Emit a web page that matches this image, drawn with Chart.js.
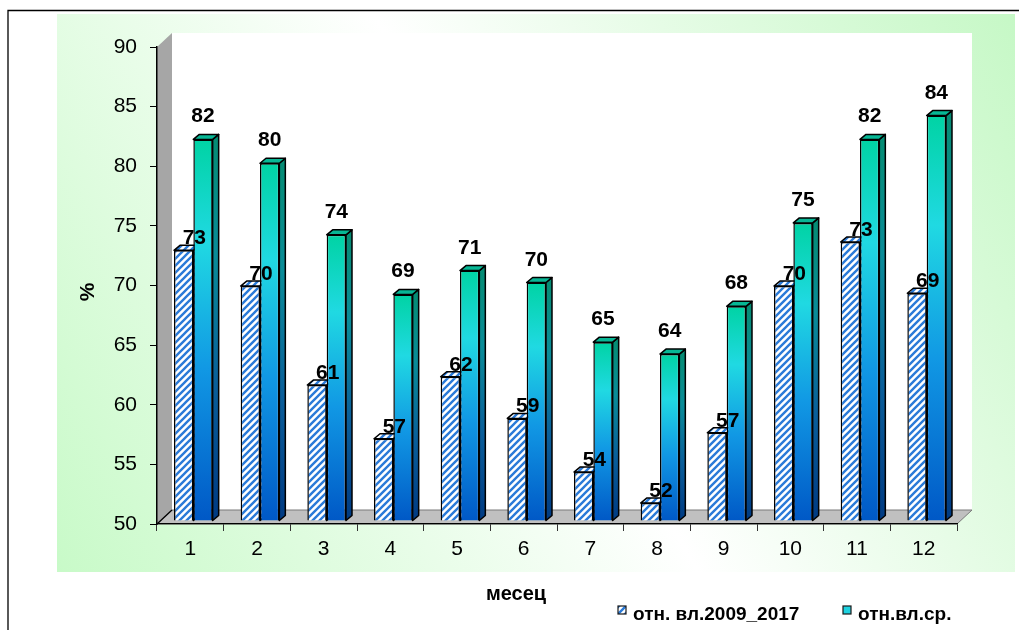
<!DOCTYPE html>
<html>
<head>
<meta charset="utf-8">
<script src="https://cdn.jsdelivr.net/npm/chart.js@4.4.0/dist/chart.umd.min.js"></script>
<style>
html, body { margin: 0; padding: 0; background: #fff; }
canvas { display: block; }
</style>
</head>
<body>
<canvas id="chart" width="1019" height="630"></canvas>
<script>
// data
const months = ['1', '2', '3', '4', '5', '6', '7', '8', '9', '10', '11', '12'];
const relHum0917 = [72.7, 69.7, 61.4, 56.9, 62.1, 58.6, 54.1, 51.5, 57.4, 69.7, 73.4, 69.1];
const relHumAvg = [82, 80, 74, 69, 71, 70, 65, 64, 68, 75, 82, 84];
const yTicks = [50, 55, 60, 65, 70, 75, 80, 85, 90];
const seriesNames = ['отн. вл.2009_2017', 'отн.вл.ср.'];
const xTitle = 'месец';
const yTitle = '%';

const FONT = "'Liberation Sans', Arial, sans-serif";
const DX = 6, DY = -5;       // bar depth
const WX = 15, WY = -14;     // wall / floor depth

const ctx = document.getElementById('chart').getContext('2d');

function hatch(){
    const c = document.createElement('canvas');
    c.width = c.height = 7;
    const g = c.getContext('2d');
    g.fillStyle = '#fff';
    g.fillRect(0, 0, 7, 7);
    g.strokeStyle = '#2a7ad8';
    g.lineWidth = 2.4;
    g.beginPath();
    g.moveTo(-1, 8); g.lineTo(8, -1);
    g.moveTo(-4, 4); g.lineTo(4, -4);
    g.moveTo(3, 11); g.lineTo(11, 3);
    g.stroke();
    return ctx.createPattern(c, 'repeat');
}
const hatchFill = hatch();

function barGradient(c){
    const chart = c.chart;
    if (!chart.chartArea || c.type !== 'data') return '#1ec8d8';
    const y = chart.scales.y;
    const top = y.getPixelForValue(c.raw), bot = y.getPixelForValue(y.min);
    const g = chart.ctx.createLinearGradient(0, top, 0, bot);
    g.addColorStop(0, '#00d3a4');
    g.addColorStop(0.27, '#20d9e2');
    g.addColorStop(0.6, '#1198e4');
    g.addColorStop(1, '#0058c6');
    return g;
}

function sideGradient(c, top, bot){
    const g = c.createLinearGradient(0, top, 0, bot);
    g.addColorStop(0, '#058c74');
    g.addColorStop(0.3, '#0a8c98');
    g.addColorStop(0.65, '#0a5e9a');
    g.addColorStop(1, '#003a82');
    return g;
}

function drawFaces(chart, idx, topFill, sideFill){
    const c = chart.ctx;
    const meta = chart.getDatasetMeta(idx);
    const bottom = chart.chartArea.bottom;
    c.save();
    c.strokeStyle = '#000';
    c.lineWidth = 1.5;
    c.lineJoin = 'round';
    meta.data.forEach(bar => {
        const p = bar.getProps(['x', 'y', 'base', 'width'], true);
        const base = Math.min(p.base, bottom);
        const l = p.x - p.width / 2, r = p.x + p.width / 2;
        c.beginPath();
        c.moveTo(r, p.y); c.lineTo(r + DX, p.y + DY);
        c.lineTo(r + DX, base + DY); c.lineTo(r, base);
        c.closePath();
        c.fillStyle = sideFill ? sideFill(c, p.y, base) : topFill;
        c.fill(); c.stroke();
        c.beginPath();
        c.moveTo(l, p.y); c.lineTo(l + DX, p.y + DY);
        c.lineTo(r + DX, p.y + DY); c.lineTo(r, p.y);
        c.closePath();
        c.fillStyle = topFill;
        c.fill(); c.stroke();
    });
    c.restore();
}

const scene = {
    id: 'scene',
    beforeDraw(chart){
        const c = chart.ctx, a = chart.chartArea;
        c.save();
        c.fillStyle = '#fff';
        c.fillRect(0, 0, chart.width, chart.height);
        // green panel
        const g = c.createLinearGradient(1015, 14, 57, 572);
        g.addColorStop(0, '#c6f8c6');
        g.addColorStop(0.5, '#ffffff');
        g.addColorStop(1, '#c8fac8');
        c.fillStyle = g;
        c.fillRect(57, 14, 958, 558);
        // frame lines
        c.strokeStyle = '#000';
        c.lineWidth = 1.3;
        c.beginPath();
        c.moveTo(8, 630); c.lineTo(8, 10.5); c.lineTo(1019, 10.5);
        c.stroke();
        // back wall
        c.fillStyle = '#fff';
        c.fillRect(a.left + WX, a.top + WY, a.right - a.left, a.bottom - a.top);
        // side wall
        c.fillStyle = '#a6a6a6';
        c.beginPath();
        c.moveTo(a.left, a.top); c.lineTo(a.left + WX, a.top + WY);
        c.lineTo(a.left + WX, a.bottom + WY); c.lineTo(a.left, a.bottom);
        c.closePath(); c.fill();
        // floor
        c.fillStyle = '#c0c0c0';
        c.strokeStyle = '#7a7a7a';
        c.lineWidth = 1;
        c.beginPath();
        c.moveTo(a.left, a.bottom); c.lineTo(a.left + WX, a.bottom + WY);
        c.lineTo(a.right + WX, a.bottom + WY); c.lineTo(a.right, a.bottom);
        c.closePath(); c.fill(); c.stroke();
        c.strokeStyle = '#000';
        c.lineWidth = 1.3;
        c.beginPath();
        c.moveTo(a.left, a.bottom); c.lineTo(a.left + WX, a.bottom + WY);
        c.stroke();
        c.restore();
    },
    beforeDatasetsDraw(chart){
        const c = chart.ctx;
        c.save();
        c.translate(3, -3);
        drawFaces(chart, 0, hatchFill, null);
    },
    afterDatasetsDraw(chart){
        const c = chart.ctx;
        drawFaces(chart, 1, '#07b795', sideGradient);
        c.fillStyle = '#000';
        c.font = 'bold 21px ' + FONT;
        c.textAlign = 'center';
        c.textBaseline = 'alphabetic';
        chart.getDatasetMeta(1).data.forEach((bar, i) => {
            c.fillText(Math.round(relHumAvg[i]), bar.x, bar.y - 17);
        });
        chart.getDatasetMeta(0).data.forEach((bar, i) => {
            c.fillText(Math.round(relHum0917[i]), bar.x + bar.width / 2 + 1, bar.y - 6);
        });
        c.restore();
    },
    afterDraw(chart){
        const c = chart.ctx;
        c.save();
        c.fillStyle = '#000';
        c.textAlign = 'center';
        c.textBaseline = 'alphabetic';
        c.font = 'bold 20px ' + FONT;
        c.fillText(xTitle, 516, 600);
        c.save();
        c.translate(94, 292);
        c.rotate(-Math.PI / 2);
        c.font = 'bold 21px ' + FONT;
        c.fillText(yTitle, 0, 0);
        c.restore();
        // legend
        c.font = 'bold 19px ' + FONT;
        c.textAlign = 'left';
        const items = [
            { x: 618, fill: hatchFill, name: seriesNames[0] },
            { x: 843, fill: '#1ed2e0', name: seriesNames[1] }
        ];
        items.forEach(it => {
            c.fillStyle = it.fill;
            c.fillRect(it.x, 606, 8, 8);
            c.strokeStyle = '#1a1a1a';
            c.lineWidth = 1.2;
            c.strokeRect(it.x, 606, 8, 8);
            c.fillStyle = '#000';
            c.fillText(it.name, it.x + 15, 620);
        });
        c.restore();
    }
};

const chart = new Chart(ctx, {
    type: 'bar',
    data: {
        labels: months,
        datasets: [
            { label: seriesNames[0], data: relHum0917, backgroundColor: hatchFill,
              borderColor: '#000', borderWidth: 1.5, base: yTicks[0] },
            { label: seriesNames[1], data: relHumAvg, backgroundColor: barGradient,
              borderColor: '#000', borderWidth: 1.5, base: yTicks[0] }
        ]
    },
    options: {
        responsive: false,
        animation: false,
        categoryPercentage: 0.58,
        barPercentage: 1,
        layout: { padding: { left: 60, top: 47, right: 62, bottom: 0 } },
        plugins: { legend: { display: false }, tooltip: { enabled: false } },
        scales: {
            x: {
                afterFit(s){ s.height = 106; },
                grid: { drawOnChartArea: false, tickLength: 7, color: '#333', offset: true },
                border: { color: '#000', width: 1.3 },
                ticks: { color: '#000', font: { family: FONT, size: 21 }, padding: 6 }
            },
            y: {
                min: 50, max: 90,
                afterFit(s){ s.width = 97; },
                afterBuildTicks(s){ s.ticks = yTicks.map(v => ({ value: v })); },
                grid: { drawOnChartArea: false, tickLength: 7, color: '#000' },
                border: { color: '#000', width: 1.5 },
                ticks: { color: '#000', font: { family: FONT, size: 21 }, padding: 13 }
            }
        }
    },
    plugins: [scene]
});
</script>
</body>
</html>
